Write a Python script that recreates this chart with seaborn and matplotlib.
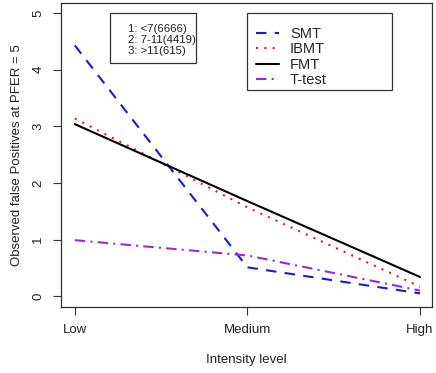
import pandas as pd
import seaborn as sns
import matplotlib
matplotlib.use("Agg")
import matplotlib.pyplot as plt
from matplotlib.patches import Rectangle

# data
levels = ["Low", "Medium", "High"]
smt = [4.43, 0.51, 0.05]
ibmt = [3.14, 1.57, 0.17]
fmt = [3.04, 1.68, 0.34]
ttest = [0.99, 0.72, 0.10]
group_notes = ["1: <7(6666)", "2: 7-11(4419)", "3: >11(615)"]

sns.set_theme(style="white")
plt.rcParams["font.family"] = ["Liberation Sans", "DejaVu Sans"]

rows = []
for name, vals in [("SMT", smt), ("IBMT", ibmt), ("FMT", fmt), ("T-test", ttest)]:
    for i, v in enumerate(vals):
        rows.append({"pos": i, "value": v, "method": name})
df = pd.DataFrame(rows)

fig = plt.figure(figsize=(4.36, 3.73), dpi=100)
ax = fig.add_axes([0.14, 0.177, 0.851, 0.815])

colors = {"SMT": "#1a1ad0", "IBMT": "#e02020", "FMT": "#000000", "T-test": "#9a28e0"}
dashes = {"SMT": (5, 4), "IBMT": (1, 3), "FMT": "", "T-test": (5, 2.5, 1, 2.5)}

sns.lineplot(data=df, x="pos", y="value", hue="method", style="method",
             palette=colors, dashes=dashes, linewidth=1.5, ax=ax)

ax.set_xlim(-0.08, 2.07)
ax.set_ylim(-0.19, 5.18)
ax.set_xticks([0, 1, 2])
ax.set_xticklabels(levels)
ax.set_yticks([0, 1, 2, 3, 4, 5])
ax.set_yticklabels(["0", "1", "2", "3", "4", "5"], rotation=90, va="center")
ax.tick_params(axis="both", direction="out", length=6, width=0.8, colors="#333333",
               labelsize=9.5, labelcolor="#222222", pad=6, bottom=True, left=True)
ax.set_xlabel("Intensity level", fontsize=9.5, color="#222222", labelpad=13)
ax.set_ylabel("Observed false Positives at PFER = 5", fontsize=9.5, color="#222222", labelpad=7)
for s in ax.spines.values():
    s.set_color("#333333")
    s.set_linewidth(0.9)

# method legend, framed by a separate box like the R legend
leg = ax.legend(loc="upper left", bbox_to_anchor=(0.525, 0.92), fontsize=10.5,
                frameon=False, handlelength=1.6, borderpad=0, labelspacing=0.08,
                handletextpad=0.75, borderaxespad=0)
ax.add_patch(Rectangle((0.501, 0.714), 0.391, 0.253, transform=ax.transAxes,
                       fill=False, ec="#333333", lw=0.9, zorder=5))

# group size note box
ax.text(0.18, 0.93, "\n".join(group_notes), transform=ax.transAxes, fontsize=8.2,
        va="top", ha="left", linespacing=1.1, color="#222222")
ax.add_patch(Rectangle((0.132, 0.803), 0.232, 0.164, transform=ax.transAxes,
                       fill=False, ec="#333333", lw=0.9, zorder=5))

fig.savefig("out.png", dpi=100)
